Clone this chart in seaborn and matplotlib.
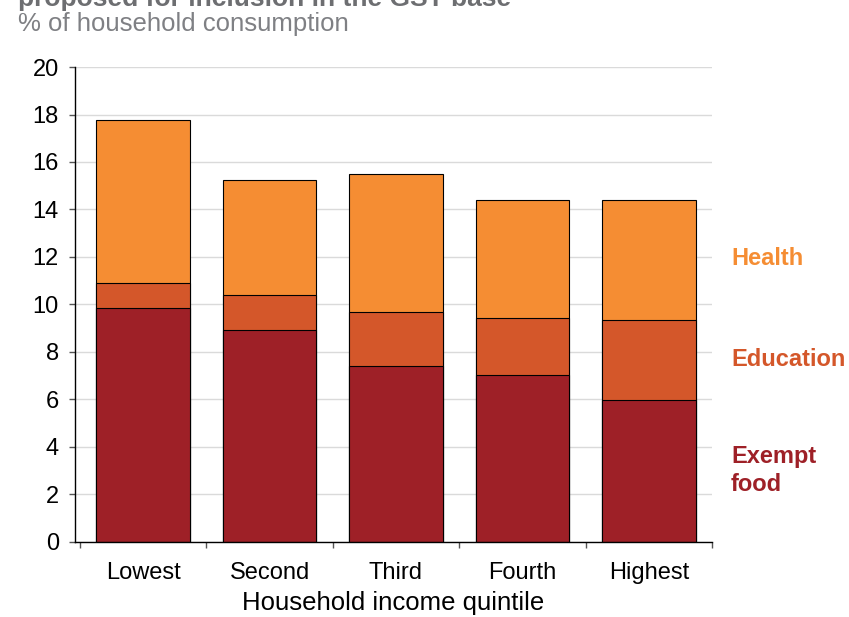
import numpy as np
import matplotlib
matplotlib.use('Agg')
import matplotlib.pyplot as plt
import seaborn as sns

# Data (% of household consumption)
quintiles = ['Lowest', 'Second', 'Third', 'Fourth', 'Highest']
exempt_food = [9.87, 8.93, 7.42, 7.05, 5.96]
education = [1.03, 1.46, 2.25, 2.38, 3.40]
health = [6.85, 4.84, 5.83, 4.97, 5.04]
y_ticks = [0, 2, 4, 6, 8, 10, 12, 14, 16, 18, 20]

col_food = '#9E2027'
col_edu = '#D4572A'
col_health = '#F58D33'

sns.set_style('white')
plt.rcParams['font.family'] = ['Liberation Sans', 'DejaVu Sans']

fig = plt.figure(figsize=(8.49, 6.17), dpi=100)
ax = fig.add_axes([0.0883, 0.1216, 0.7503, 0.7698])

# stacked bars drawn as layered cumulative totals
food_top = np.array(exempt_food)
edu_top = food_top + np.array(education)
health_top = edu_top + np.array(health)

for tops, col in [(health_top, col_health), (edu_top, col_edu), (food_top, col_food)]:
    sns.barplot(x=quintiles, y=tops, color=col, saturation=1, width=0.74,
                edgecolor='black', linewidth=0.8, ax=ax)

ax.set_ylim(0, 20)
ax.set_xlim(-0.54, 4.5)
ax.set_yticks(y_ticks)
ax.yaxis.grid(True, color='#DADADA', linewidth=1)
ax.set_axisbelow(True)

for s in ['top', 'right']:
    ax.spines[s].set_visible(False)
for s in ['left', 'bottom']:
    ax.spines[s].set_color('black')
    ax.spines[s].set_linewidth(1)

ax.tick_params(axis='y', direction='out', length=4, width=1, color='#555555',
               labelsize=17, labelcolor='black', pad=7.5, left=True)
ax.set_xticks(range(len(quintiles)))
ax.set_xticklabels(quintiles)
ax.set_xticks(np.arange(-0.5, len(quintiles)), minor=True)
ax.tick_params(axis='x', which='major', length=0, labelsize=17,
               labelcolor='black', pad=14.5)
ax.tick_params(axis='x', which='minor', direction='out', length=4, width=1,
               color='#555555', bottom=True)
ax.set_xlabel('Household income quintile', fontsize=18.5, color='black',
              labelpad=5)
ax.set_ylabel('')

# right-hand series labels
lab_kw = dict(transform=ax.get_yaxis_transform(), fontsize=17,
              fontweight='bold', va='center', ha='left')
ax.text(1.03, 11.93, 'Health', color=col_health, **lab_kw)
ax.text(1.03, 7.68, 'Education', color=col_edu, **lab_kw)
ax.text(1.03, 3.0, 'Exempt\nfood', color=col_food, linespacing=1.25, **lab_kw)

# title (clipped at top, as in the reference) and subtitle
fig.text(0.021, 1 - 6 / 617, 'proposed for inclusion in the GST base',
         fontsize=19, fontweight='bold', color='#6D6E71', va='baseline',
         ha='left')
fig.text(0.021, 1 - 31 / 617, '% of household consumption', fontsize=18.5,
         color='#7F8084', va='baseline', ha='left')

fig.savefig('out.png', dpi=100)
